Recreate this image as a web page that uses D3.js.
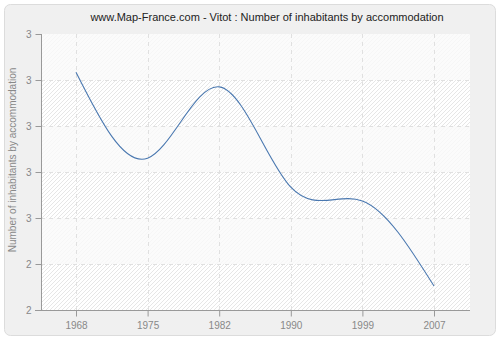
<!DOCTYPE html>
<html><head><meta charset="utf-8">
<script src="https://cdn.jsdelivr.net/npm/d3@7"></script>
<style>
html,body{margin:0;padding:0;background:#fff;}
svg{display:block;font-family:"Liberation Sans",Arial,sans-serif;}
</style></head><body>
<svg id="c" width="500" height="340"></svg>
<script>
const years = ["1968","1975","1982","1990","1999","2007"];
const values = [2.817, 2.630, 2.785, 2.567, 2.537, 2.352];
const yTicks = [2.3, 2.4, 2.5, 2.6, 2.7, 2.8, 2.9];
const yTickLabels = ["2","2","3","3","3","3","3"];
const title = "www.Map-France.com - Vitot : Number of inhabitants by accommodation";
const yTitle = "Number of inhabitants by accommodation";

const svg = d3.select("#c");
const L = 41, R = 470, T = 34, B = 310;

const defs = svg.append("defs");
const pat = defs.append("pattern").attr("id","hatch").attr("patternUnits","userSpaceOnUse")
  .attr("width",4).attr("height",4);
pat.append("rect").attr("width",4).attr("height",4).attr("fill","#ffffff");
pat.append("path").attr("d","M-1,1 L1,-1 M0,4 L4,0 M3,5 L5,3").attr("stroke","#e6e6e6").attr("stroke-width",1);

svg.append("rect").attr("x",4.5).attr("y",4.5).attr("width",491).attr("height",331)
  .attr("rx",6).attr("fill","#f0f0f0").attr("stroke","#dcdcdc");

const x = d3.scalePoint().domain(years).range([76, 434]);
const y = d3.scaleLinear().domain([2.3, 2.9]).range([B, T]);

svg.append("rect").attr("x",L).attr("y",T).attr("width",R-L).attr("height",B-T).attr("fill","url(#hatch)");
for (let i = 0; i < yTicks.length - 1; i++) {
  if (i % 2 === 0) continue;
  svg.append("rect").attr("x",L).attr("width",R-L)
    .attr("y",y(yTicks[i+1])).attr("height",y(yTicks[i])-y(yTicks[i+1]))
    .attr("fill","#fafafa").attr("opacity",0.8);
}

const grid = svg.append("g").attr("stroke","#e0e0e0").attr("stroke-dasharray","4,4").attr("fill","none");
yTicks.slice(1,-1).forEach(t => grid.append("line").attr("x1",L).attr("x2",R)
  .attr("y1",Math.round(y(t))+0.5).attr("y2",Math.round(y(t))+0.5));
years.forEach(yr => grid.append("line").attr("y1",T).attr("y2",B)
  .attr("x1",Math.round(x(yr))+0.5).attr("x2",Math.round(x(yr))+0.5));

const yAxis = d3.axisLeft(y).tickValues(yTicks).tickSize(6).tickPadding(4)
  .tickFormat((d,i) => yTickLabels[i]);
const gy = svg.append("g").attr("transform",`translate(${L+0.5},0)`).call(yAxis);
const xAxis = d3.axisBottom(x).tickSize(6).tickPadding(5);
const gx = svg.append("g").attr("transform",`translate(0,${B+0.5})`).call(xAxis);
gx.select(".domain").attr("d",`M${L-6},0H${R}`);
gy.select(".domain").attr("d",`M0,${T}V${B}`);
[gx, gy].forEach(g => {
  g.selectAll(".domain, .tick line").attr("stroke","#999");
  g.selectAll("text").attr("fill","#888").style("font-size","10px").style("font-family","'Liberation Sans',Arial,sans-serif");
});

const line = d3.line().x((d,i) => x(years[i])).y(d => y(d)).curve(d3.curveNatural);
svg.append("path").datum(values).attr("d",line).attr("fill","none")
  .attr("stroke","#4a78b0").attr("stroke-width",1.1);

svg.append("text").attr("x",267).attr("y",21).attr("text-anchor","middle")
  .attr("fill","#222").style("font-size","11px").text(title);
svg.append("text").attr("transform","translate(16,160) rotate(-90)").attr("text-anchor","middle")
  .attr("fill","#888").style("font-size","10px").text(yTitle);
</script></body></html>
